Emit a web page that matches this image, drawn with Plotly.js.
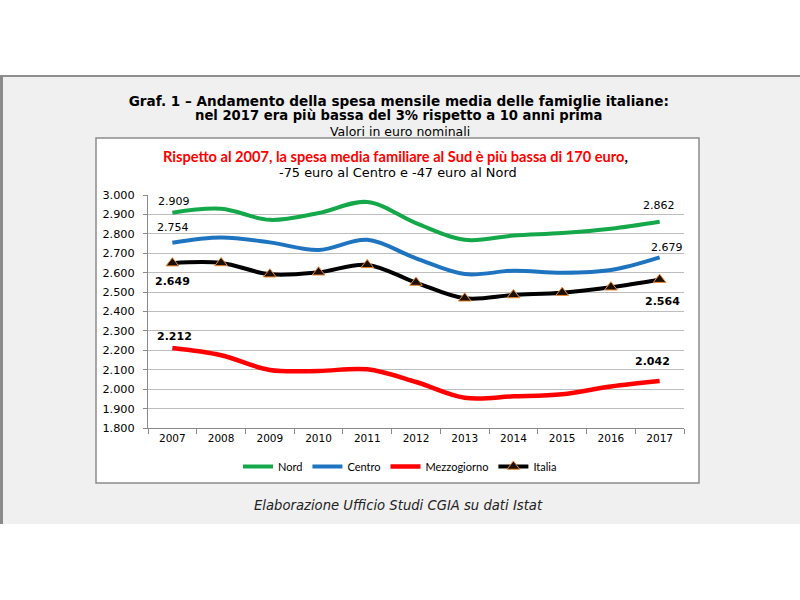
<!DOCTYPE html>
<html>
<head>
<meta charset="utf-8">
<script src="https://cdn.plot.ly/plotly-3.0.1.min.js"></script>
<style>html,body{margin:0;padding:0;background:#fff;}#chart{width:800px;height:600px;}</style>
</head>
<body>
<div id="chart"></div>
<script>
// ---- data ----
const years = ['2007','2008','2009','2010','2011','2012','2013','2014','2015','2016','2017'];
const nord = [2909, 2929, 2872, 2907, 2964, 2855, 2769, 2791, 2804, 2826, 2862];
const centro = [2754, 2781, 2756, 2717, 2769, 2674, 2593, 2610, 2600, 2614, 2679];
const mezzogiorno = [2212, 2175, 2099, 2094, 2102, 2037, 1956, 1963, 1974, 2014, 2042];
const italia = [2649, 2650, 2592, 2602, 2640, 2549, 2468, 2485, 2497, 2525, 2564];
const seriesNames = ['Nord', 'Centro', 'Mezzogiorno', 'Italia'];
const yTicks = [1800, 1900, 2000, 2100, 2200, 2300, 2400, 2500, 2600, 2700, 2800, 2900, 3000];

// ---- layout geometry ----
const W = 800, H = 600;
const M = {l: 148, r: 116, t: 195, b: 172};
const pw = W - M.l - M.r, ph = H - M.t - M.b;
const px = x => (x - M.l) / pw;          // pixel -> paper x
const py = y => (H - M.b - y) / ph;      // pixel -> paper y

const fmt = v => (v / 1000).toFixed(3); // 2909 -> "2.909"

const colors = {Nord: '#14a84a', Centro: '#1f74c0', Mezzogiorno: '#ff0000', Italia: '#000000'};

const traces = [
  {x: years, y: nord, name: seriesNames[0], type: 'scatter', mode: 'lines',
   line: {color: colors.Nord, width: 4, shape: 'spline', smoothing: 1}},
  {x: years, y: centro, name: seriesNames[1], type: 'scatter', mode: 'lines',
   line: {color: colors.Centro, width: 4, shape: 'spline', smoothing: 1}},
  {x: years, y: mezzogiorno, name: seriesNames[2], type: 'scatter', mode: 'lines',
   line: {color: colors.Mezzogiorno, width: 4.5, shape: 'spline', smoothing: 1}},
  {x: years, y: italia, name: seriesNames[3], type: 'scatter', mode: 'lines+markers',
   line: {color: colors.Italia, width: 4, shape: 'spline', smoothing: 1},
   marker: {symbol: 'triangle-up', size: 11, color: '#1a1008', line: {color: '#f08a30', width: 1}}}
];

const lblFont = (bold) => ({family: 'DejaVu Sans', size: 11, color: '#000', weight: bold ? 'bold' : 'normal'});
const last = years.length - 1;
// category axis: annotation x given as category index
const dataLabels = [
  {x: 0, y: nord[0], text: fmt(nord[0]), yshift: 11, xshift: 2, font: lblFont(false)},
  {x: 0, y: centro[0], text: fmt(centro[0]), yshift: 15, xshift: 1, font: lblFont(false)},
  {x: 0, y: italia[0], text: fmt(italia[0]), yshift: -18, xshift: 0, font: lblFont(true)},
  {x: 0, y: mezzogiorno[0], text: fmt(mezzogiorno[0]), yshift: 12, xshift: 2, font: lblFont(true)},
  {x: last, y: nord[last], text: fmt(nord[last]), yshift: 16, xshift: -1, font: lblFont(false)},
  {x: last, y: centro[last], text: fmt(centro[last]), yshift: 10, xshift: 7, font: lblFont(false)},
  {x: last, y: italia[last], text: fmt(italia[last]), yshift: -22, xshift: 3, font: lblFont(true)},
  {x: last, y: mezzogiorno[last], text: fmt(mezzogiorno[last]), yshift: 20, xshift: -7, font: lblFont(true)}
].map(a => Object.assign({xref: 'x', yref: 'y', showarrow: false, xanchor: 'center', yanchor: 'middle'}, a));

const textAnn = (text, xpix, ypix, font) => ({
  xref: 'paper', yref: 'paper', x: px(xpix), y: py(ypix), text: text, showarrow: false,
  xanchor: 'center', yanchor: 'middle', font: font
});

const annotations = dataLabels.concat([
  textAnn('<b>nel 2017 era più bassa del 3% rispetto a 10 anni prima</b>', 398, 115.5,
          {family: 'DejaVu Sans', size: 13.2, color: '#000'}),
  textAnn('Valori in euro nominali', 400, 131, {family: 'DejaVu Sans', size: 12.5, color: '#000'}),
  textAnn('<b><span style="color:#ff0000">Rispetto al 2007, la spesa media familiare al Sud è più bassa di 170 euro</span>,</b>',
          395, 156, {family: 'Lato', size: 14.6, color: '#000'}),
  textAnn('-75 euro al Centro e -47 euro al Nord', 398, 172, {family: 'DejaVu Sans', size: 12.9, color: '#000'}),
  textAnn('<i>Elaborazione Ufficio Studi CGIA su dati Istat</i>', 398, 505, {family: 'DejaVu Sans', size: 13.2, color: '#222'})
]);

const shapes = [
  {type: 'rect', xref: 'paper', yref: 'paper', x0: px(0), x1: px(W), y0: py(76), y1: py(524),
   fillcolor: '#f0f0f0', line: {width: 0}, layer: 'below'},
  {type: 'line', xref: 'paper', yref: 'paper', x0: px(0), x1: px(W), y0: py(76), y1: py(76),
   line: {color: '#8f8f8f', width: 2}, layer: 'below'},
  {type: 'line', xref: 'paper', yref: 'paper', x0: px(1.5), x1: px(1.5), y0: py(76), y1: py(524),
   line: {color: '#8a8a8a', width: 3}, layer: 'below'},
  {type: 'rect', xref: 'paper', yref: 'paper', x0: px(96), x1: px(699), y0: py(138), y1: py(483),
   fillcolor: '#ffffff', line: {color: '#8c8c8c', width: 1.5}, layer: 'below'}
];

const layout = {
  width: W, height: H,
  margin: M,
  paper_bgcolor: '#ffffff',
  plot_bgcolor: '#ffffff',
  separators: ',.',
  showlegend: true,
  title: {
    text: '<b>Graf. 1 – Andamento della spesa mensile media delle famiglie italiane:</b>',
    font: {family: 'DejaVu Sans', size: 13.6, color: '#000'},
    xref: 'container', yref: 'container', x: 0.4985, xanchor: 'center', y: 1 - 101 / H, yanchor: 'middle'
  },
  xaxis: {
    type: 'category', range: [-0.5, years.length - 0.5], fixedrange: true,
    showline: true, linecolor: '#8a8a8a', linewidth: 1,
    ticks: 'outside', tickson: 'boundaries', ticklen: 5, tickcolor: '#8a8a8a',
    showgrid: false, zeroline: false,
    tickfont: {family: 'DejaVu Sans', size: 10.5, color: '#000'}
  },
  yaxis: {
    range: [yTicks[0], yTicks[yTicks.length - 1]], tickvals: yTicks, ticktext: yTicks.map(fmt),
    showline: true, linecolor: '#8a8a8a', linewidth: 1,
    ticks: 'outside', ticklen: 4, tickcolor: '#8a8a8a',
    showgrid: true, gridcolor: '#bdbdbd', gridwidth: 1, zeroline: false,
    tickfont: {family: 'DejaVu Sans', size: 11.3, color: '#000'}, ticklabelstandoff: 6
  },
  legend: {
    orientation: 'h', xref: 'container', yref: 'container', x: 0.5, xanchor: 'center',
    y: 1 - 452 / H, yanchor: 'top', bgcolor: 'rgba(0,0,0,0)',
    font: {family: 'Lato', size: 11, color: '#000'}, traceorder: 'normal', itemwidth: 30
  },
  shapes: shapes,
  annotations: annotations
};

Plotly.newPlot('chart', traces, layout, {displayModeBar: false, staticPlot: true});
</script>
</body>
</html>
